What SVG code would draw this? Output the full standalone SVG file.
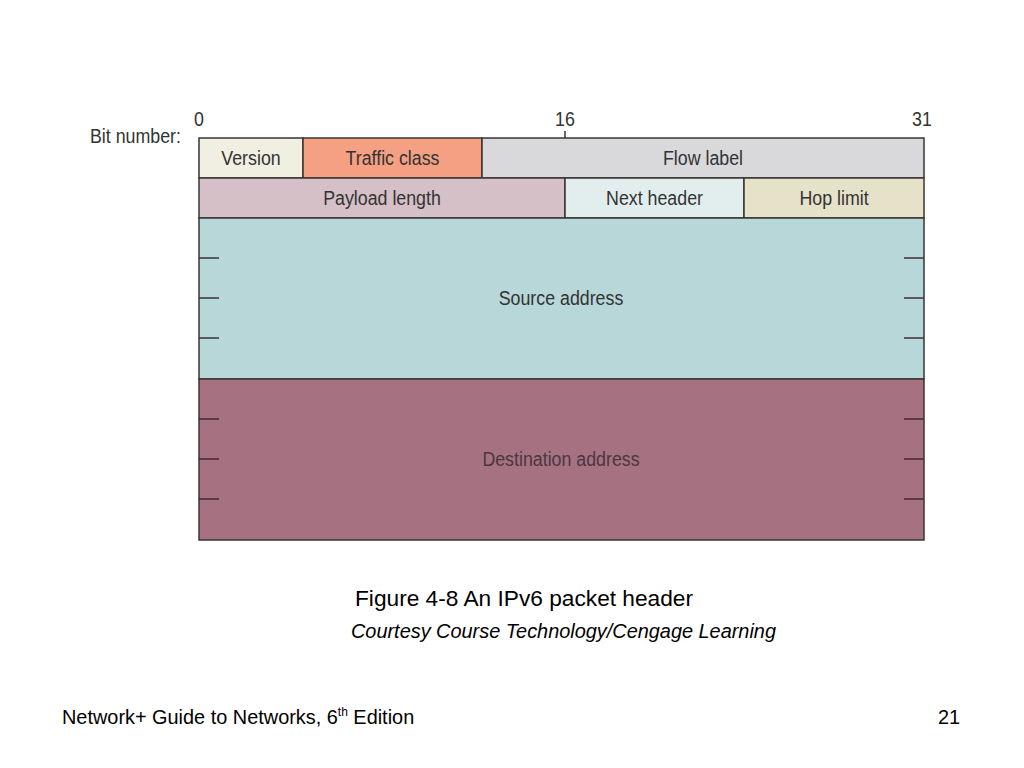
<svg xmlns="http://www.w3.org/2000/svg" width="1024" height="768" viewBox="0 0 1024 768">
<style>
.f{stroke:#3a3535;stroke-width:1.5}
.t{font-family:"Liberation Sans",Arial,sans-serif;font-size:20px;fill:#333;text-anchor:middle}
.tk{stroke:#3a3535;stroke-width:1.5;fill:none}
.cap{font-family:"Liberation Sans",Arial,sans-serif;fill:#000}
</style>
<rect width="1024" height="768" fill="#fff"/>
<text class="t" transform="translate(90,143) scale(0.89,1)" style="text-anchor:start">Bit number:</text>
<text class="t" transform="translate(199,126) scale(0.89,1)">0</text>
<text class="t" transform="translate(565,126) scale(0.89,1)">16</text>
<text class="t" transform="translate(922,126) scale(0.89,1)">31</text>
<line class="tk" x1="565" y1="131" x2="565" y2="138"/>
<g id="version"><rect class="f" x="199" y="138" width="104" height="40" fill="#f0efe2"/><text class="t" transform="translate(251,165) scale(0.89,1)">Version</text></g>
<g id="traffic-class"><rect class="f" x="303" y="138" width="179" height="40" fill="#f5a083"/><text class="t" transform="translate(392.5,165) scale(0.89,1)">Traffic class</text></g>
<g id="flow-label"><rect class="f" x="482" y="138" width="442" height="40" fill="#d9d9db"/><text class="t" transform="translate(703,165) scale(0.89,1)">Flow label</text></g>
<g id="payload-length"><rect class="f" x="199" y="178" width="366" height="40" fill="#d5c0c8"/><text class="t" transform="translate(382,205) scale(0.89,1)">Payload length</text></g>
<g id="next-header"><rect class="f" x="565" y="178" width="179" height="40" fill="#e2eeee"/><text class="t" transform="translate(654.5,205) scale(0.89,1)">Next header</text></g>
<g id="hop-limit"><rect class="f" x="744" y="178" width="180" height="40" fill="#e6e1c9"/><text class="t" transform="translate(834,205) scale(0.89,1)">Hop limit</text></g>
<g id="source-address"><rect class="f" x="199" y="218" width="725" height="161" fill="#b7d7d8"/><text class="t" transform="translate(561,305) scale(0.89,1)">Source address</text>
<path class="tk" d="M199 258h20M199 298h20M199 338h20M904 258h20M904 298h20M904 338h20"/></g>
<g id="destination-address"><rect class="f" x="199" y="379" width="725" height="161" fill="#a67282"/><text class="t" transform="translate(561,466) scale(0.89,1)" style="fill:#4a3840">Destination address</text>
<path class="tk" d="M199 419h20M199 459h20M199 499h20M904 419h20M904 459h20M904 499h20" style="stroke:#4a2535"/></g>
<g id="connectors"></g>
<text class="cap" x="355" y="606" font-size="22.7">Figure 4-8 An IPv6 packet header</text>
<text class="cap" x="351" y="638" font-size="19.9" font-style="italic">Courtesy Course Technology/Cengage Learning</text>
<text class="cap" x="62" y="724" font-size="19.9">Network+ Guide to Networks, 6<tspan font-size="12" dy="-8">th</tspan><tspan dy="8"> Edition</tspan></text>
<text class="cap" x="960" y="724" font-size="19.9" text-anchor="end">21</text>
</svg>
